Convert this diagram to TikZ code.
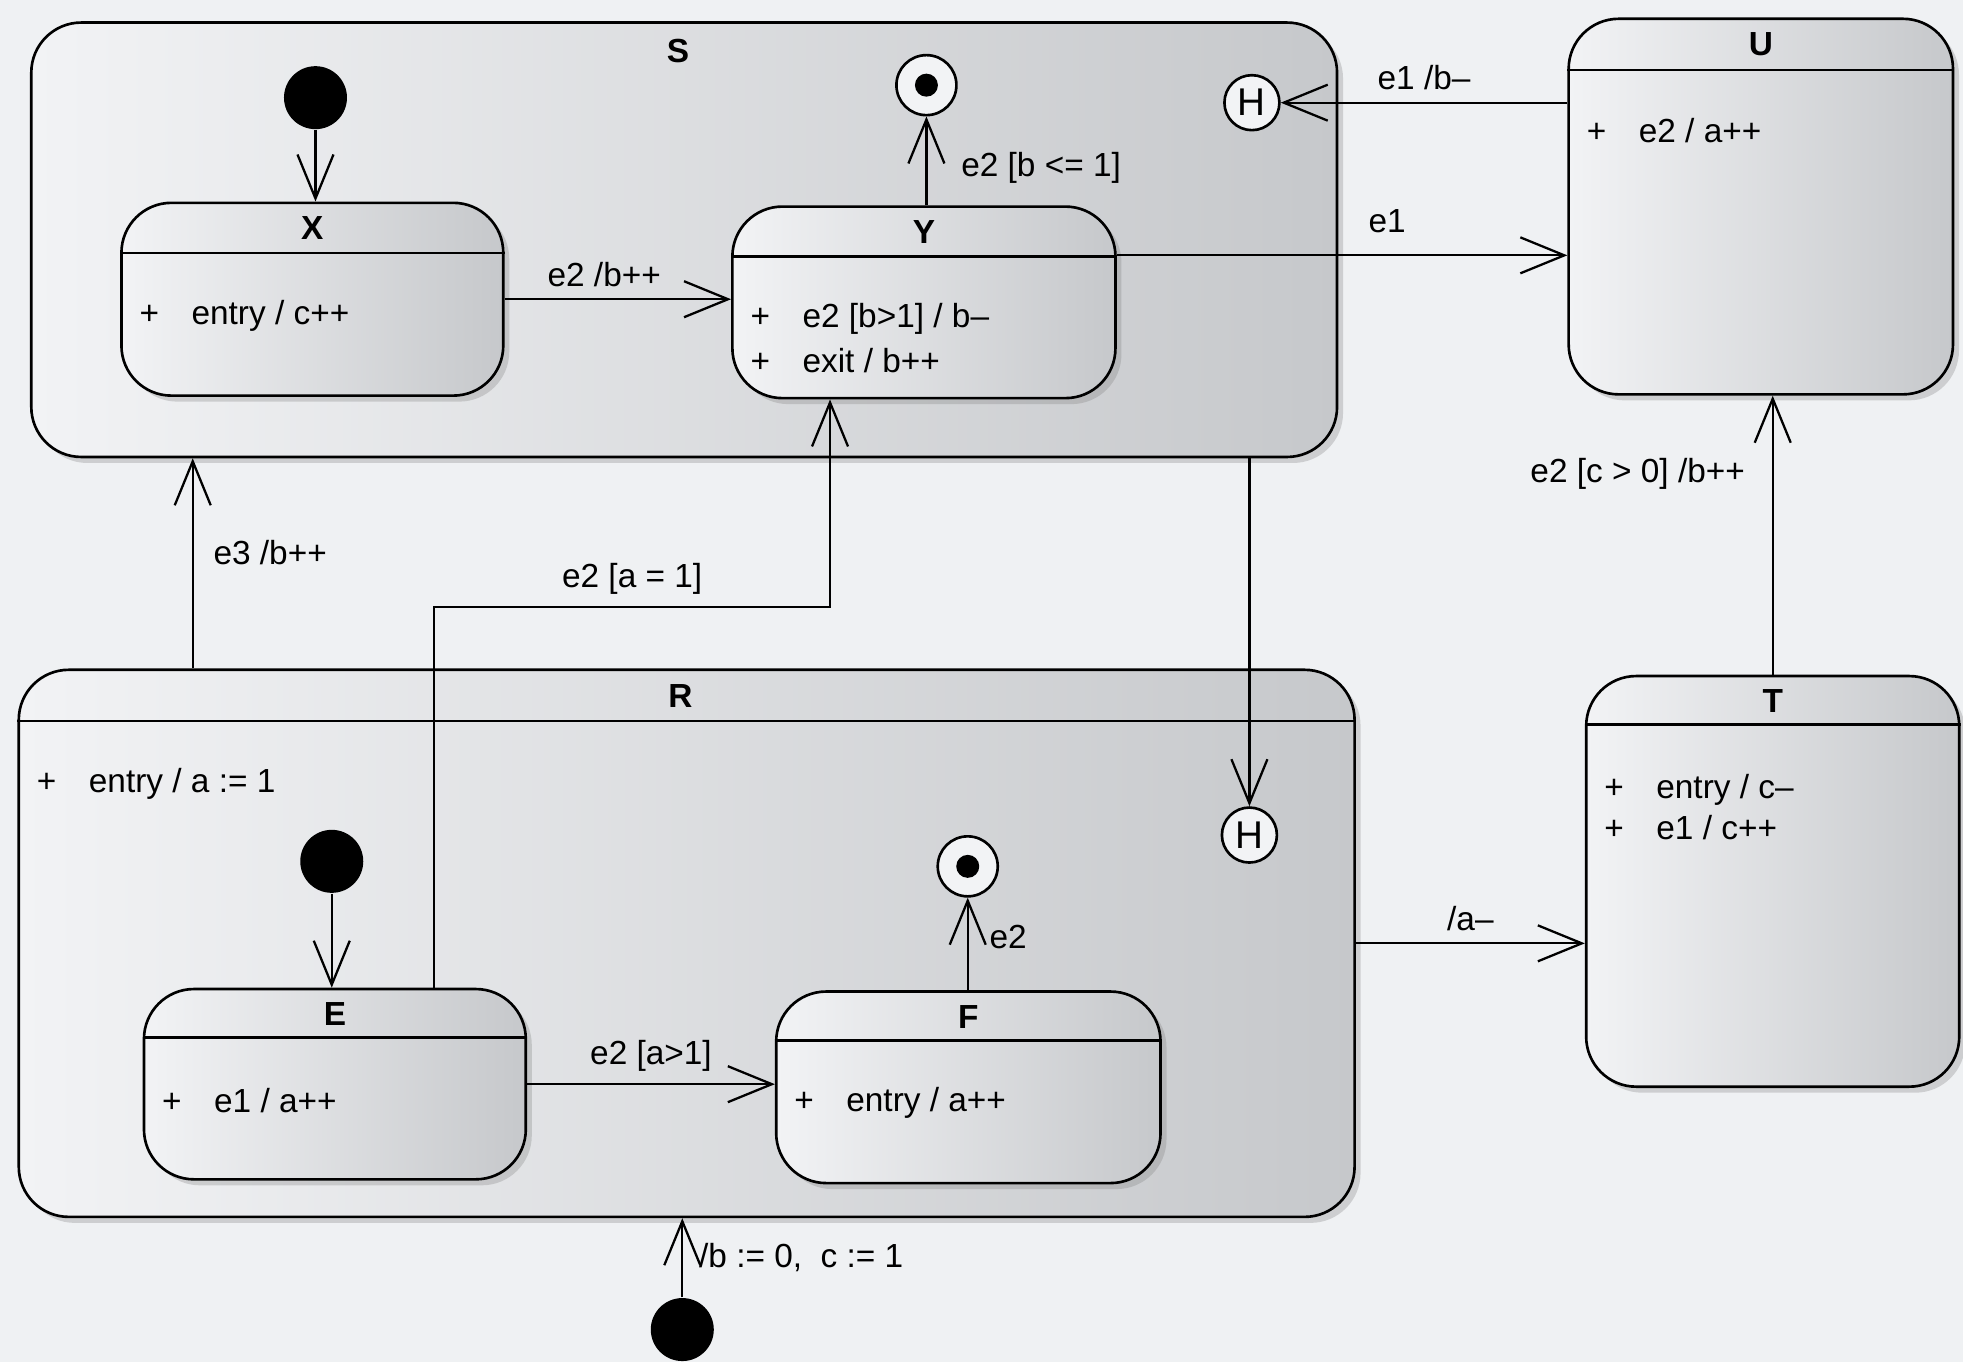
\documentclass[tikz,border=0pt]{standalone}
\usepackage{fontspec}
\setmainfont{Liberation Sans}
\usetikzlibrary{arrows.meta,shadows,fit,calc}

\definecolor{paper}{RGB}{239,241,243}
\definecolor{shadelight}{RGB}{242,243,245}
\definecolor{shademid}{RGB}{230,232,234}
\definecolor{shadedark}{RGB}{198,200,203}

\tikzset{
        stbox/.style={draw, line width=0.75pt, rounded corners=5mm, inner sep=0pt,
                left color=shadelight, middle color=shademid, right color=shadedark,
                drop shadow={shadow xshift=0.6mm, shadow yshift=-0.6mm, fill=gray, opacity=0.3}},
        stsep/.style={line width=0.75pt},
        sttitle/.style={font=\fontsize{9.5}{11}\selectfont\bfseries},
        stact/.style={anchor=west, inner sep=0pt},
        initdot/.style={circle, fill=black, minimum size=6.3mm, inner sep=0pt},
        finaldot/.style={circle, draw, line width=0.75pt, fill=shadelight, minimum size=6mm, inner sep=0pt,
                path picture={\fill [black] (path picture bounding box.center) circle (1.15mm);}},
        histdot/.style={circle, draw, line width=0.75pt, fill=shadelight, minimum size=5.5mm, inner sep=0pt,
                font=\fontsize{11}{13}\selectfont},
        transit/.style={line width=0.65pt, -{Straight Barb[length=4.4mm, width=3.6mm]}}
}
\newcommand{\act}[1]{\makebox[5.2mm][l]{+}#1}

\begin{document}
\begin{tikzpicture}[x=0.1252mm, y=-0.1252mm, font=\fontsize{9.5}{11}\selectfont]
        \useasboundingbox (0,0) rectangle (1568,1088);
        \fill [paper] (0,0) rectangle (1568,1088);

        \node [stbox, fit={(25,18) (1068,365)}] (S) {};
        \node [sttitle] at ($(S.north)+(-5,24)$) {S};
        \node [stbox, fit={(15,535) (1082,972)}] (R) {};
        \node [sttitle] at ($(R.north)+(-5,22)$) {R};
        \draw [stsep] ($(R.north west)+(0,42)$) -- ($(R.north east)+(0,42)$);
        \node [stact] at ($(R.north west)+(15,92)$) {\act{entry / a := 1}};

        \node [stbox, fit={(97,162) (402,316)}] (X) {};
        \node [sttitle] at ($(X.north)+(0,21)$) {X};
        \draw [stsep] ($(X.north west)+(0,41)$) -- ($(X.north east)+(0,41)$);
        \node [stact] at ($(X.north west)+(15,91)$) {\act{entry / c++}};

        \node [stbox, fit={(585,165) (891,318)}] (Y) {};
        \node [sttitle] at ($(Y.north)+(0,21)$) {Y};
        \draw [stsep] ($(Y.north west)+(0,41)$) -- ($(Y.north east)+(0,41)$);
        \node [stact] at ($(Y.north west)+(15,91)$) {\act{e2 [b>1] / b–}};
        \node [stact] at ($(Y.north west)+(15,124)$) {\act{exit / b++}};

        \node [stbox, fit={(1253,15) (1560,315)}] (U) {};
        \node [sttitle] at ($(U.north)+(0,21)$) {U};
        \draw [stsep] ($(U.north west)+(0,42)$) -- ($(U.north east)+(0,42)$);
        \node [stact] at ($(U.north west)+(15,90)$) {\act{e2 / a++}};

        \node [stbox, fit={(1267,540) (1565,868)}] (T) {};
        \node [sttitle] at ($(T.north)+(0,21)$) {T};
        \draw [stsep] ($(T.north west)+(0,40)$) -- ($(T.north east)+(0,40)$);
        \node [stact] at ($(T.north west)+(15,92)$) {\act{entry / c–}};
        \node [stact] at ($(T.north west)+(15,122)$) {\act{e1 / c++}};

        \node [stbox, fit={(115,790) (420,942)}] (E) {};
        \node [sttitle] at ($(E.north)+(0,21)$) {E};
        \draw [stsep] ($(E.north west)+(0,40)$) -- ($(E.north east)+(0,40)$);
        \node [stact] at ($(E.north west)+(15,90)$) {\act{e1 / a++}};

        \node [stbox, fit={(620,792) (927,945)}] (F) {};
        \node [sttitle] at ($(F.north)+(0,21)$) {F};
        \draw [stsep] ($(F.north west)+(0,40)$) -- ($(F.north east)+(0,40)$);
        \node [stact] at ($(F.north west)+(15,90)$) {\act{entry / a++}};

        \node [initdot] (iS) at (252,78) {};
        \node [finaldot] (fS) at (740,68) {};
        \node [histdot] (HS) at (1000,82) {H};
        \node [initdot] (iR) at (265,688) {};
        \node [finaldot] (fR) at (773,692) {};
        \node [histdot] (HR) at (998,667) {H};
        \node [initdot] (i0) at (545,1062) {};

        \coordinate (yu) at ($(Y.north east)+(0,40)$);
        \coordinate (rs) at ($(R.north west)+(140,0)$);
        \coordinate (ey) at ($(E.north west)+(233,0)$);
        \coordinate (eyb) at (663,485);

        \draw [transit] (iS) -- (iS |- X.north);
        \draw [transit] (X.east) -- (X.east -| Y.west) node[pos=0.44, above] {e2 /b++};
        \draw [transit] (fS |- Y.north) -- (fS) node[pos=0.42, anchor=west, xshift=2.2mm] {e2 [b <= 1]};
        \draw [transit] (U.west |- HS) -- (HS) node[midway, above] {e1 /b–};
        \draw [transit] (yu) -- (yu -| U.west) node[pos=0.6, above, yshift=1mm] {e1};
        \draw [transit] (T.north) -- (T.north |- U.south) node[pos=0.72, left, xshift=-1.5mm] {e2 [c > 0] /b++};
        \draw [transit] (rs) -- (rs |- S.south) node[pos=0.55, right, xshift=0.8mm] {e3 /b++};
        \draw [transit] (ey) |- node[pos=0.75, above] {e2 [a = 1]} (eyb) -- (eyb |- Y.south);
        \draw [transit] (HR |- S.south) -- (HR);
        \draw [transit] (iR) -- (iR |- E.north);
        \draw [transit] (E.east) -- (E.east -| F.west) node[midway, above] {e2 [a>1]};
        \draw [transit] (fR |- F.north) -- (fR) node[pos=0.58, right, xshift=0.9mm] {e2};
        \draw [transit] (R.east) -- (R.east -| T.west) node[midway, above] {/a–};
        \draw [transit] (i0) -- (i0 |- R.south) node[pos=0.5, right, xshift=0.4mm] {/b := 0,\ \ c := 1};
\end{tikzpicture}
\end{document}
